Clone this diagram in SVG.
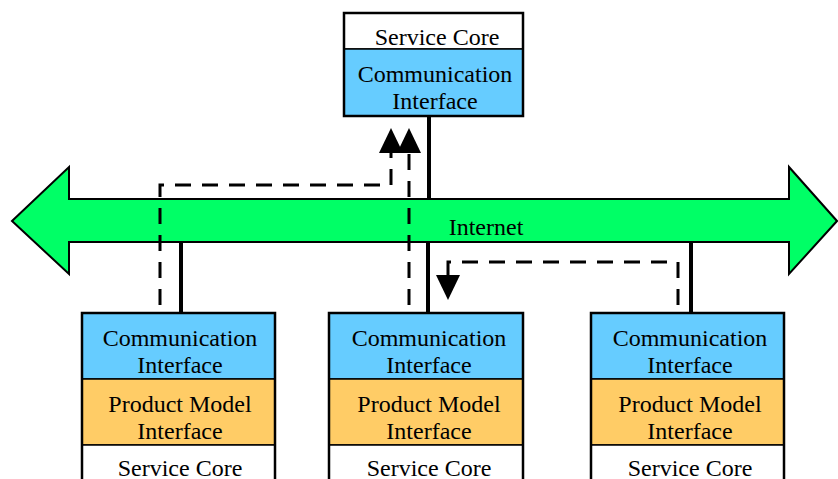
<svg xmlns="http://www.w3.org/2000/svg" width="838" height="479" viewBox="0 0 838 479">
  <style>
    .lbl { font-family: "Liberation Serif", "Times New Roman", serif; font-size: 24px; fill: #000; text-anchor: middle; }
    .comm { fill: #66ccff; stroke: #000; stroke-width: 1.5; }
    .pm { fill: #ffcc66; stroke: #000; stroke-width: 1.5; }
    .core { fill: #ffffff; stroke: #000; stroke-width: 1.5; }
    .frame { fill: none; stroke: #000; stroke-width: 2.5; }
    .link { stroke: #000; stroke-width: 4; fill: none; }
    .flow { stroke: #000; stroke-width: 3; fill: none; stroke-dasharray: 16 11; }
  </style>
  <defs>
    <polygon id="headUp" points="0,0 -12,25 12,25" fill="#000"/>
  </defs>

  <!-- Internet backbone: double-headed arrow -->
  <g id="internet">
    <polygon points="12,221 69,167 69,199 789,199 789,167 837,221 789,274 789,242 69,242 69,274" fill="#00ff66" stroke="#000" stroke-width="2"/>
    <text class="lbl" x="486" y="235">Internet</text>
  </g>

  <!-- Links and message flows -->
  <g id="connectors">
    <line class="link" x1="429" y1="116" x2="429" y2="199"/>
    <line class="link" x1="181" y1="242" x2="181" y2="313"/>
    <line class="link" x1="428" y1="242" x2="428" y2="313"/>
    <line class="link" x1="691" y1="242" x2="691" y2="313"/>

    <path class="flow" d="M160,305 V185 H391 V152"/>
    <use href="#headUp" x="391" y="128"/>
    <path class="flow" d="M409,305 V152"/>
    <use href="#headUp" x="409" y="128"/>
    <path class="flow" d="M678,305 V262 H448 V276"/>
    <use href="#headUp" transform="translate(448,300) rotate(180)"/>
  </g>

  <!-- Central service node -->
  <g id="server">
    <rect class="core" x="344" y="13" width="179" height="36"/>
    <rect class="comm" x="344" y="49" width="179" height="67"/>
    <rect class="frame" x="344" y="13" width="179" height="103"/>
    <text class="lbl" x="437" y="45">Service Core</text>
    <text class="lbl" x="435" y="82">Communication</text>
    <text class="lbl" x="435" y="109">Interface</text>
  </g>

  <!-- Client nodes -->
  <g id="client-left">
    <rect class="comm" x="82" y="313" width="193" height="66"/>
    <rect class="pm" x="82" y="379" width="193" height="66"/>
    <rect class="core" x="82" y="445" width="193" height="45"/>
    <rect class="frame" x="82" y="313" width="193" height="177"/>
    <text class="lbl" x="180" y="346">Communication</text>
    <text class="lbl" x="180" y="373">Interface</text>
    <text class="lbl" x="180" y="412">Product Model</text>
    <text class="lbl" x="180" y="439">Interface</text>
    <text class="lbl" x="180" y="476">Service Core</text>
  </g>

  <g id="client-middle">
    <rect class="comm" x="329" y="313" width="194" height="66"/>
    <rect class="pm" x="329" y="379" width="194" height="66"/>
    <rect class="core" x="329" y="445" width="194" height="45"/>
    <rect class="frame" x="329" y="313" width="194" height="177"/>
    <text class="lbl" x="429" y="346">Communication</text>
    <text class="lbl" x="429" y="373">Interface</text>
    <text class="lbl" x="429" y="412">Product Model</text>
    <text class="lbl" x="429" y="439">Interface</text>
    <text class="lbl" x="429" y="476">Service Core</text>
  </g>

  <g id="client-right">
    <rect class="comm" x="591" y="313" width="193" height="66"/>
    <rect class="pm" x="591" y="379" width="193" height="66"/>
    <rect class="core" x="591" y="445" width="193" height="45"/>
    <rect class="frame" x="591" y="313" width="193" height="177"/>
    <text class="lbl" x="690" y="346">Communication</text>
    <text class="lbl" x="690" y="373">Interface</text>
    <text class="lbl" x="690" y="412">Product Model</text>
    <text class="lbl" x="690" y="439">Interface</text>
    <text class="lbl" x="690" y="476">Service Core</text>
  </g>
</svg>
